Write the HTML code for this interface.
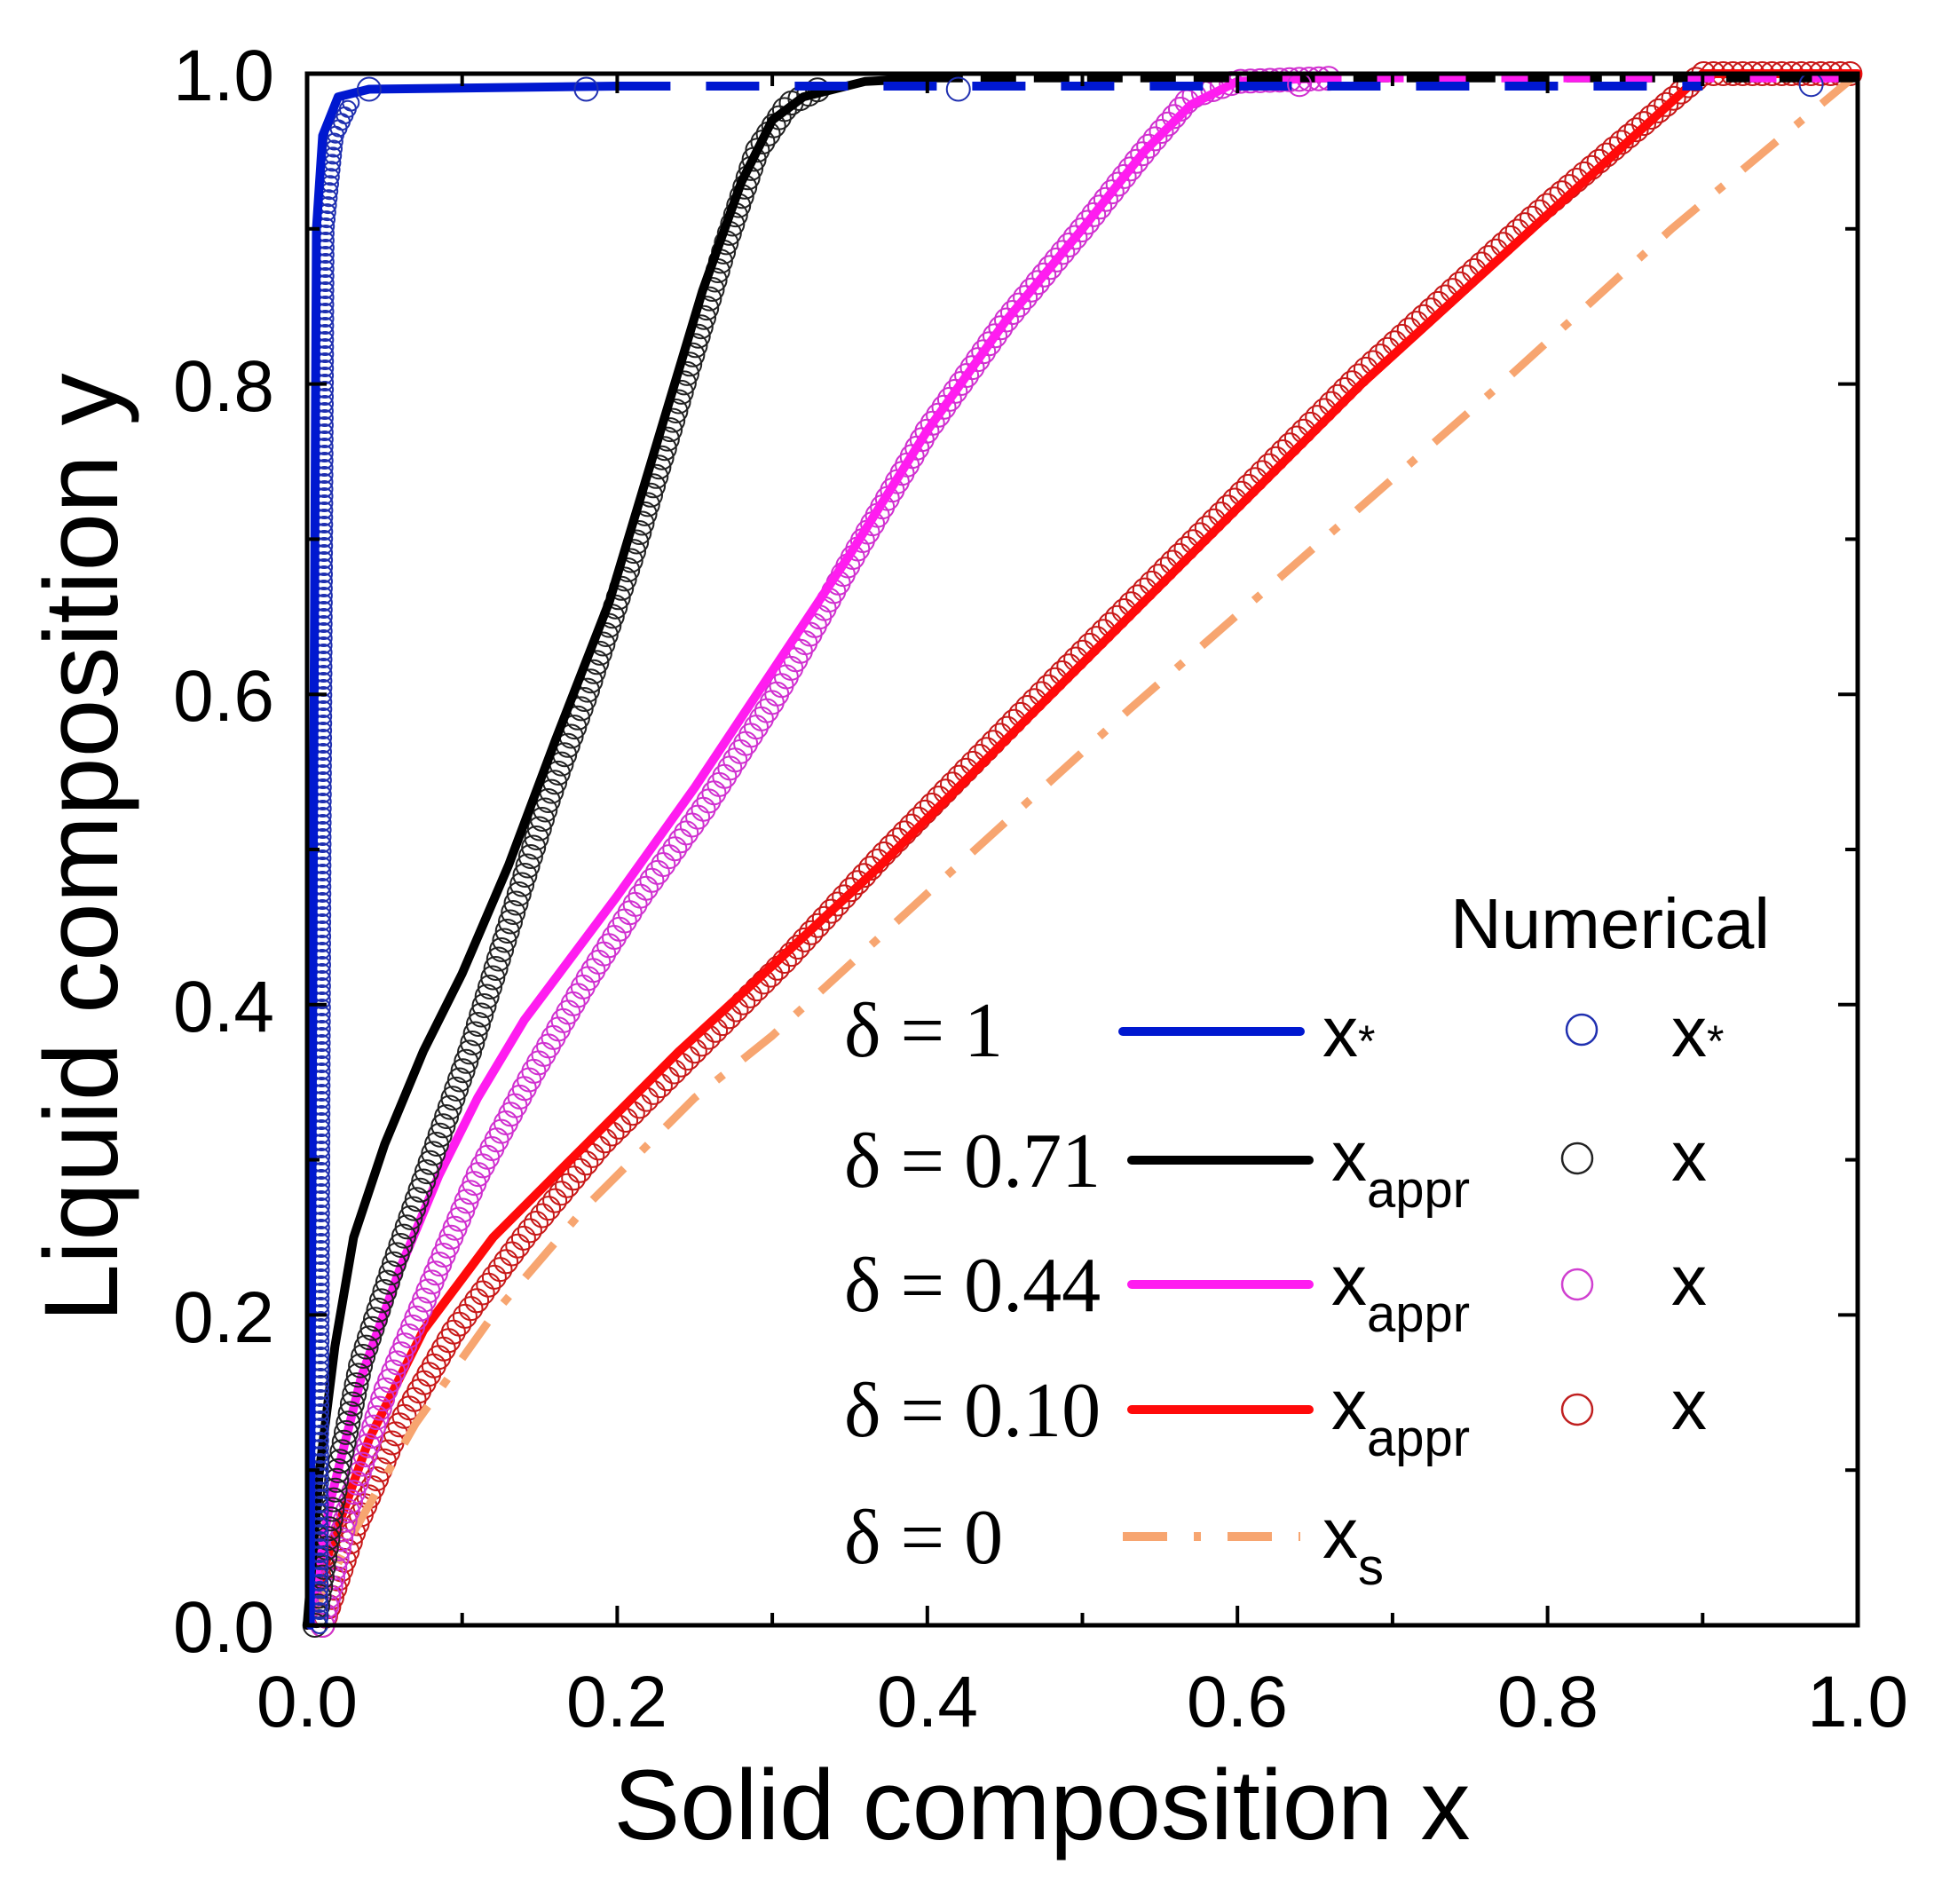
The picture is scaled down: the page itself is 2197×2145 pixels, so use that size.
<!DOCTYPE html>
<html><head><meta charset="utf-8"><style>
html,body{margin:0;padding:0;background:#fff;}
svg{display:block}
</style></head><body>
<svg id="s" width="2197" height="2145" viewBox="0 0 2197 2145" xmlns="http://www.w3.org/2000/svg">
<rect width="2197" height="2145" fill="#fff"/>
<g id="data"></g>
<g id="axes"></g>
<g font-family="Liberation Sans, sans-serif" font-size="82" fill="#000">
<text x="309" y="113" text-anchor="end">1.0</text>
<text x="309" y="463" text-anchor="end">0.8</text>
<text x="309" y="812" text-anchor="end">0.6</text>
<text x="309" y="1162" text-anchor="end">0.4</text>
<text x="309" y="1512" text-anchor="end">0.2</text>
<text x="309" y="1861" text-anchor="end">0.0</text>
<text x="346" y="1945" text-anchor="middle">0.0</text>
<text x="695" y="1945" text-anchor="middle">0.2</text>
<text x="1045" y="1945" text-anchor="middle">0.4</text>
<text x="1394" y="1945" text-anchor="middle">0.6</text>
<text x="1744" y="1945" text-anchor="middle">0.8</text>
<text x="2093" y="1945" text-anchor="middle">1.0</text>
<text x="1174" y="2072" text-anchor="middle" font-size="112">Solid composition x</text>
<text transform="translate(132,955) rotate(-90)" text-anchor="middle" font-size="118">Liquid composition y</text>
<text x="1634" y="1068" font-size="80">Numerical</text>
</g>
<g font-family="Liberation Serif, serif" font-size="88" fill="#000">
<text x="951" y="1190">δ = 1</text>
<text x="951" y="1337">δ = 0.71</text>
<text x="951" y="1477">δ = 0.44</text>
<text x="951" y="1618">δ = 0.10</text>
<text x="951" y="1761">δ = 0</text>
</g>
<g stroke-width="10" stroke-linecap="round">
<line x1="1265" y1="1162" x2="1465" y2="1162" stroke="#0018d0"/>
<line x1="1275" y1="1307" x2="1475" y2="1307" stroke="#000"/>
<line x1="1275" y1="1447" x2="1475" y2="1447" stroke="#ff1cf0"/>
<line x1="1275" y1="1588" x2="1475" y2="1588" stroke="#ff0a0a"/>
<line x1="1265" y1="1731" x2="1465" y2="1731" stroke="#f7a570" stroke-dasharray="50 30 8 30" stroke-linecap="butt"/>
</g>
<g fill="none" stroke-width="2.5">
<circle cx="1782" cy="1160" r="17" stroke="#2030b0"/>
<circle cx="1777" cy="1305" r="17" stroke="#222"/>
<circle cx="1777" cy="1447" r="17" stroke="#d040d0"/>
<circle cx="1777" cy="1588" r="17" stroke="#c02020"/>
</g>
<g font-family="Liberation Sans, sans-serif" font-size="80" fill="#000">
<text x="1490" y="1190">x<tspan font-size="50">*</tspan></text>
<text x="1883" y="1190">x<tspan font-size="50">*</tspan></text>
<text x="1500" y="1330">x<tspan font-size="58" dy="30">appr</tspan></text>
<text x="1500" y="1470">x<tspan font-size="58" dy="30">appr</tspan></text>
<text x="1500" y="1610">x<tspan font-size="58" dy="30">appr</tspan></text>
<text x="1490" y="1755">x<tspan font-size="58" dy="30">s</tspan></text>
<text x="1883" y="1330">x</text>
<text x="1883" y="1470">x</text>
<text x="1883" y="1610">x</text>
</g>
</svg>
<script>
var NS="http://www.w3.org/2000/svg";
function X(x){return 346+1747*x} function Y(y){return 1831-1748*y}
var data=document.getElementById('data'), axes=document.getElementById('axes');
function el(p,tag,a){var e=document.createElementNS(NS,tag);for(var k in a)e.setAttribute(k,a[k]);p.appendChild(e);return e;}
function dense(pts,step){
 var P=pts.map(function(p){return [X(p[0]),Y(p[1])]});var out=[P[0]],acc=0;
 for(var i=1;i<P.length;i++){var a=P[i-1],b=P[i],d=Math.hypot(b[0]-a[0],b[1]-a[1]);
  var t=step-acc; while(t<=d){out.push([a[0]+(b[0]-a[0])*t/d,a[1]+(b[1]-a[1])*t/d]);t+=step;} acc=d-(t-step);}
 return out;}
function line(pts,color,w,dash){var d=pts.map(function(p,i){return (i?'L':'M')+X(p[0]).toFixed(1)+' '+Y(p[1]).toFixed(1)}).join(' ');
 var a={d:d,fill:'none',stroke:color,'stroke-width':w,'stroke-linejoin':'round','stroke-linecap':dash?'butt':'round'};if(dash)a['stroke-dasharray']=dash;el(data,'path',a);}
function circles(pts,color,step,r){dense(pts,step).forEach(function(p){el(data,'circle',{cx:p[0].toFixed(1),cy:p[1].toFixed(1),r:r,fill:'none',stroke:color,'stroke-width':2});});}
var redL=[[0,0],[0.015,0.05],[0.04,0.12],[0.075,0.19],[0.12,0.25],[0.18,0.31],[0.24,0.37],[0.3,0.425],[0.37,0.49],[0.47,0.59],[0.57,0.69],[0.68,0.8],[0.79,0.9],[0.9,1.0],[1,1]];
var redC=[[0.01,0],[0.03,0.06],[0.06,0.13],[0.095,0.19],[0.14,0.25],[0.19,0.31],[0.25,0.37],[0.31,0.43],[0.37,0.495],[0.47,0.597],[0.57,0.697],[0.68,0.807],[0.79,0.907],[0.9,1.0],[1,1]];
var orange=[[0,0],[0.03,0.06],[0.07,0.13],[0.12,0.2],[0.18,0.27],[0.25,0.34],[0.3,0.38],[0.42,0.49],[0.53,0.59],[0.65,0.695],[0.77,0.8],[0.88,0.9],[1,1]];
var magL=[[0,0],[0.015,0.08],[0.035,0.16],[0.06,0.23],[0.085,0.29],[0.11,0.34],[0.14,0.39],[0.17,0.43],[0.2,0.47],[0.25,0.54],[0.3,0.615],[0.35,0.69],[0.4,0.77],[0.45,0.84],[0.5,0.9],[0.54,0.95],[0.57,0.98],[0.6,0.995],[0.65,0.997]];
var magC=[[0.01,0],[0.025,0.07],[0.05,0.15],[0.08,0.22],[0.11,0.29],[0.145,0.355],[0.18,0.415],[0.215,0.47],[0.255,0.525],[0.3,0.595],[0.35,0.685],[0.4,0.77],[0.45,0.84],[0.5,0.9],[0.54,0.95],[0.57,0.985],[0.6,0.995],[0.66,0.997]];
var blkL=[[0,0],[0.008,0.1],[0.018,0.18],[0.03,0.25],[0.05,0.31],[0.075,0.37],[0.1,0.42],[0.13,0.49],[0.16,0.57],[0.195,0.66],[0.225,0.76],[0.255,0.86],[0.28,0.93],[0.3,0.97],[0.32,0.985],[0.36,0.995],[0.4,0.997]];
var blkC=[[0.005,0],[0.02,0.1],[0.035,0.17],[0.055,0.23],[0.08,0.3],[0.105,0.37],[0.13,0.45],[0.155,0.53],[0.18,0.6],[0.21,0.69],[0.24,0.79],[0.27,0.89],[0.29,0.95],[0.31,0.98],[0.33,0.99]];
var bluL=[[0.002,0],[0.004,0.5],[0.006,0.9],[0.01,0.96],[0.02,0.985],[0.04,0.99],[0.2,0.992]];
var bluC=[[0.008,0],[0.01,0.5],[0.012,0.9],[0.018,0.96],[0.03,0.985]];
circles(redC,'#c81818',11,13);
line(redL,'#ff0a0a',10);
line(orange,'#f7a570',9,'50 28 10 28');
circles(magC,'#d030d0',11,13);
line(magL,'#ff1cf0',10);
circles(blkC,'#222',11,13);
line(blkL,'#000',10);
circles(bluC,'#2030b0',8,9);
line(bluL,'#0018d0',10);
line([[0.4,0.997],[1,0.997]],'#000',9,'40 20');
line([[0.65,0.997],[1,0.997]],'#ff1cf0',9,'30 40');
line([[0.2,0.992],[0.9,0.992]],'#0018d0',10,'60 40');
[[0.04,0.99],[0.18,0.99],[0.42,0.99],[0.64,0.993],[0.97,0.993]].forEach(function(p,i){el(data,'circle',{cx:X(p[0]),cy:Y(p[1]),r:13,fill:'none',stroke:i==3?'#d030d0':'#2030b0','stroke-width':2});});
el(axes,'rect',{x:346,y:83,width:1747,height:1748,fill:'none',stroke:'#000','stroke-width':5});
for(var i=0;i<=10;i++){var L=i%2==0?22:14;var x=X(i/10),y=Y(i/10);
 el(axes,'line',{x1:x,y1:1831,x2:x,y2:1831-L,stroke:'#000','stroke-width':4});
 el(axes,'line',{x1:x,y1:83,x2:x,y2:83+L,stroke:'#000','stroke-width':4});
 el(axes,'line',{x1:346,y1:y,x2:346+L,y2:y,stroke:'#000','stroke-width':4});
 el(axes,'line',{x1:2093,y1:y,x2:2093-L,y2:y,stroke:'#000','stroke-width':4});}
</script>
</body></html>
